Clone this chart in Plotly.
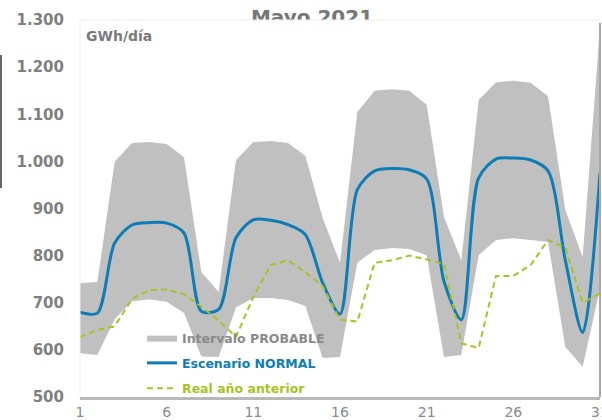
import plotly.graph_objects as go

# ---------------- data ----------------
days = list(range(1, 32))
upper = [742, 744, 999, 1039, 1041, 1037, 1009, 765, 723, 1003,
         1041, 1043, 1039, 1012, 880, 785, 1105, 1150, 1153, 1150,
         1120, 882, 790, 1130, 1168, 1171, 1167, 1138, 897, 797, 1285]
lower = [593, 589, 665, 703, 707, 702, 678, 586, 585, 690,
         710, 710, 706, 693, 583, 585, 785, 812, 816, 814,
         801, 585, 589, 801, 833, 837, 833, 829, 606, 564, 730]
normal = [680, 678, 827, 865, 870, 869, 848, 682, 686, 838,
          876, 875, 866, 845, 742, 676, 940, 980, 985, 982,
          963, 745, 664, 965, 1005, 1007, 1003, 980, 790, 637, 976]
real_prev = [627, 642, 650, 708, 727, 728, 718, 692, 662, 628,
             712, 780, 790, 765, 735, 664, 660, 785, 790, 800,
             792, 782, 614, 604, 757, 757, 780, 833, 817, 700, 720]
x_ticks = [1, 6, 11, 16, 21, 26, 31]
y_ticks = [500, 600, 700, 800, 900, 1000, 1100, 1200, 1300]
title_text = "Mayo 2021"
unit_text = "GWh/día"
band_name = "Intervalo PROBABLE"
normal_name = "Escenario NORMAL"
real_name = "Real año anterior"

# ---------------- styling ----------------
W, H = 602, 420
ML, MR, MT, MB = 80, 2, 0, 23
PAPER_H = H - MT - MB
PLOT_TOP = 20
main_top = (PAPER_H - PLOT_TOP) / PAPER_H

GREY_BAND = "#c0c0c0"
BLUE = "#0e7db5"
GREEN = "#a5c323"
TXT = "#7f7f7f"
FONT = "DejaVu Sans"

fig = go.Figure()
fig.add_trace(go.Scatter(x=days, y=lower, mode="lines",
                         line=dict(width=0, color=GREY_BAND),
                         showlegend=False, hoverinfo="skip", legendgroup="band"))
fig.add_trace(go.Scatter(x=days, y=upper, mode="lines", fill="tonexty",
                         fillcolor=GREY_BAND, line=dict(width=0, color=GREY_BAND),
                         name='<span style="color:%s">%s</span>' % ("#8a8a8a", band_name),
                         hoverinfo="skip", legendgroup="band"))
fig.add_trace(go.Scatter(x=days, y=normal, mode="lines",
                         line=dict(color=BLUE, width=3, shape="spline", smoothing=0.8),
                         name='<span style="color:%s">%s</span>' % (BLUE, normal_name),
                         hoverinfo="skip", legendgroup="normal"))
fig.add_trace(go.Scatter(x=days, y=real_prev, mode="lines",
                         line=dict(color=GREEN, width=2, dash="6px,4px"),
                         name='<span style="color:%s">%s</span>' % (GREEN, real_name),
                         hoverinfo="skip", legendgroup="real"))

# Title partly hidden behind the plot area: clipped text trace in its own strip
fig.add_trace(go.Scatter(x=[(312 - ML) / (W - ML - MR)], y=[0.05], mode="text",
                         text=["<b>%s</b>" % title_text], textposition="middle center",
                         textfont=dict(size=20, color="#757575", family=FONT),
                         xaxis="x2", yaxis="y2", showlegend=False,
                         cliponaxis=True, hoverinfo="skip"))

fig.update_layout(
    width=W, height=H,
    margin=dict(l=ML, r=MR, t=MT, b=MB),
    paper_bgcolor="white", plot_bgcolor="white",
    separators=",.",
    font=dict(family=FONT, color=TXT),
    showlegend=True,
    legend=dict(x=(142 - ML) / (W - ML - MR), y=(PAPER_H - 323) / PAPER_H,
                xanchor="left", yanchor="top",
                bgcolor="rgba(0,0,0,0)", borderwidth=0,
                font=dict(size=12.5, family=FONT, weight="bold"),
                tracegroupgap=6, itemwidth=30),
    xaxis=dict(domain=[0, 1], range=[1, 31], tickvals=x_ticks,
               showgrid=False, zeroline=False, ticks="",
               showline=True, linecolor="#b8b8b8", linewidth=3,
               tickfont=dict(size=14, color="#8a8a8a", family=FONT),
               ticklabeloverflow="allow",
               automargin=False, anchor="y"),
    yaxis=dict(domain=[0, main_top], range=[500, 1300], tickvals=y_ticks,
               tickformat=",.0f", showgrid=False, zeroline=False, ticks="",
               showline=False, ticklabelstandoff=15,
               tickfont=dict(size=15, color=TXT, family=FONT, weight="bold"),
               automargin=False, anchor="x"),
    xaxis2=dict(domain=[0, 1], range=[0, 1], visible=False, anchor="y2"),
    yaxis2=dict(domain=[main_top, 1], range=[0, 1], visible=False, anchor="x2"),
    hovermode=False,
)

# Unit label
fig.add_annotation(xref="paper", yref="paper",
                   x=(84 - ML) / (W - ML - MR), y=(PAPER_H - 26) / PAPER_H,
                   xanchor="left", yanchor="top", showarrow=False,
                   text="<b>%s</b>" % unit_text,
                   font=dict(size=14, color="#7a7a7a", family=FONT))

# Plot frame
fig.add_shape(type="line", xref="paper", yref="paper", x0=0, x1=1,
              y0=main_top, y1=main_top, line=dict(color="#eeeeee", width=1))
fig.add_shape(type="line", xref="paper", yref="paper", x0=0, x1=0,
              y0=0, y1=main_top, line=dict(color="#eeeeee", width=1))
fig.add_shape(type="line", xref="paper", yref="paper", x0=1, x1=1,
              y0=0, y1=(PAPER_H - 23) / PAPER_H, line=dict(color="#a8a8a8", width=2))
# stray vertical mark at far left
fig.add_shape(type="line", xref="paper", yref="paper",
              x0=(1 - ML) / (W - ML - MR), x1=(1 - ML) / (W - ML - MR),
              y0=(PAPER_H - 55) / PAPER_H, y1=(PAPER_H - 188) / PAPER_H,
              line=dict(color="#666666", width=2))

fig.write_html("out.html",
               config={"displayModeBar": False},
               post_script="document.body.style.margin='0px';"
                           "document.body.style.overflow='hidden';")
